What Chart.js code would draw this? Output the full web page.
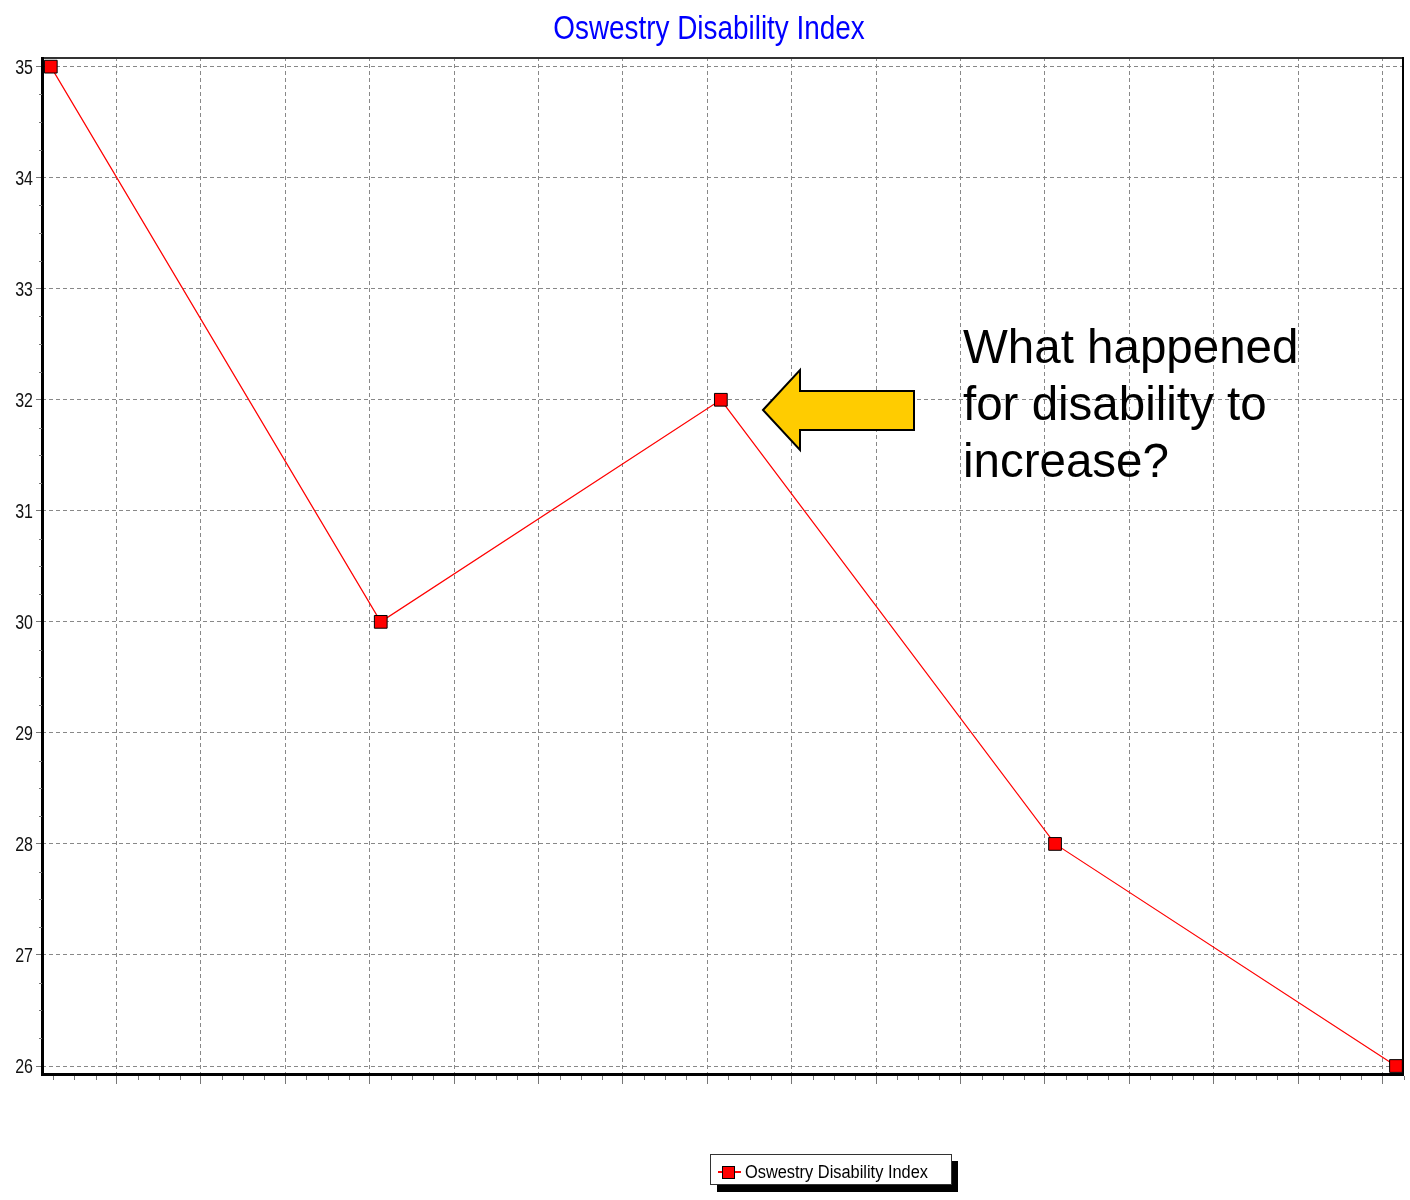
<!DOCTYPE html>
<html>
<head>
<meta charset="utf-8">
<script src="https://cdn.jsdelivr.net/npm/chart.js@4.4.1/dist/chart.umd.min.js"></script>
<style>
  html, body { margin: 0; padding: 0; background: #ffffff; }
  #wrap { width: 1410px; height: 1200px; }
</style>
</head>
<body>
<div id="wrap"><canvas id="c" width="1410" height="1200"></canvas></div>
<script>
// ---- data ----
const chartTitle = 'Oswestry Disability Index';
const seriesLabel = 'Oswestry Disability Index';
const xValues = [0, 3.91, 7.94, 11.9, 15.94];        // time position (weeks)
const yValues = [35, 30, 32, 28, 26];
const yTickValues = [26, 27, 28, 29, 30, 31, 32, 33, 34, 35];
const xGridValues = [0.78, 1.78, 2.78, 3.78, 4.78, 5.78, 6.78, 7.78, 8.78, 9.78, 10.78, 11.78, 12.78, 13.78, 14.78, 15.78];
const noteLines = ['What happened', 'for disability to', 'increase?'];

const SANS = "'Liberation Sans', Arial, sans-serif";
const GRID = '#888888';

// draw condensed (Arial-Narrow-like) text by squeezing Liberation Sans horizontally
function narrowText(ctx, text, x, y, size, squeeze, align, color) {
  ctx.save();
  ctx.font = size + 'px ' + SANS;
  ctx.fillStyle = color;
  ctx.textBaseline = 'alphabetic';
  const w = ctx.measureText(text).width * squeeze;
  let left = x;
  if (align === 'center') left = x - w / 2;
  else if (align === 'right') left = x - w;
  ctx.translate(left, y);
  ctx.scale(squeeze, 1);
  ctx.textAlign = 'left';
  ctx.fillText(text, 0, 0);
  ctx.restore();
}

const decorations = {
  id: 'decorations',
  beforeDatasetsDraw(chart) {
    const {ctx, chartArea: a} = chart;
    ctx.save();
    // plot frame
    ctx.strokeStyle = '#333';
    ctx.lineWidth = 2;
    ctx.beginPath(); ctx.moveTo(a.left, a.top + 1); ctx.lineTo(a.right, a.top + 1); ctx.stroke();
    ctx.strokeStyle = '#000';
    ctx.beginPath(); ctx.moveTo(a.right - 1, a.top); ctx.lineTo(a.right - 1, a.bottom); ctx.stroke();
    ctx.lineWidth = 3;
    ctx.beginPath(); ctx.moveTo(a.left + 0.5, a.top); ctx.lineTo(a.left + 0.5, a.bottom + 2); ctx.stroke();
    ctx.beginPath(); ctx.moveTo(a.left, a.bottom + 0.5); ctx.lineTo(a.right, a.bottom + 0.5); ctx.stroke();

    // minor tick marks
    const xs = chart.scales.x, ys = chart.scales.y;
    ctx.strokeStyle = '#777';
    ctx.lineWidth = 1;
    for (let v = Math.ceil(ys.min * 4) / 4; v <= ys.max; v += 0.25) {
      if (Math.abs(v - Math.round(v)) < 1e-6) continue;
      const py = Math.round(ys.getPixelForValue(v)) + 0.5;
      ctx.beginPath(); ctx.moveTo(a.left - 3, py); ctx.lineTo(a.left, py); ctx.stroke();
    }
    const g0 = xGridValues[0];
    for (let k = -4; k <= xGridValues.length * 4; k++) {
      if (k % 4 === 0) continue;
      const v = g0 + k * 0.25;
      if (v < xs.min || v > xs.max) continue;
      const px = Math.round(xs.getPixelForValue(v)) + 0.5;
      ctx.beginPath(); ctx.moveTo(px, a.bottom + 2); ctx.lineTo(px, a.bottom + 6); ctx.stroke();
    }
    ctx.restore();
  },
  afterDraw(chart) {
    const {ctx, chartArea: a} = chart;
    const ys = chart.scales.y;

    // title
    narrowText(ctx, chartTitle, 709, 39, 34, 0.82, 'center', '#0000ff');

    // y tick labels from the scale's own ticks
    ys.ticks.forEach(t => {
      const py = ys.getPixelForValue(t.value);
      narrowText(ctx, String(t.value), a.left - 9, py + 7, 19.5, 0.82, 'right', '#111');
    });

    ctx.save();
    // annotation arrow
    ctx.beginPath();
    ctx.moveTo(763, 410);
    ctx.lineTo(800, 370);
    ctx.lineTo(800, 391);
    ctx.lineTo(914, 391);
    ctx.lineTo(914, 430);
    ctx.lineTo(800, 430);
    ctx.lineTo(800, 450);
    ctx.closePath();
    ctx.fillStyle = '#FFCC00';
    ctx.fill();
    ctx.lineWidth = 2;
    ctx.strokeStyle = '#000';
    ctx.lineJoin = 'miter';
    ctx.stroke();

    // annotation text
    ctx.fillStyle = '#000';
    ctx.font = '47.5px ' + SANS;
    ctx.textAlign = 'left';
    ctx.textBaseline = 'alphabetic';
    noteLines.forEach((t, i) => ctx.fillText(t, 963, 363 + i * 57));

    // legend with drop shadow
    const lx = 710, ly = 1154, lw = 241, lh = 30;
    ctx.fillStyle = '#000';
    ctx.fillRect(lx + 7, ly + 7, lw, lh + 1);
    ctx.fillStyle = '#fff';
    ctx.fillRect(lx, ly, lw, lh);
    ctx.strokeStyle = '#333';
    ctx.lineWidth = 1;
    ctx.strokeRect(lx + 0.5, ly + 0.5, lw, lh);
    ctx.strokeStyle = '#ff0000';
    ctx.lineWidth = 2;
    ctx.beginPath(); ctx.moveTo(718, 1172); ctx.lineTo(741, 1172); ctx.stroke();
    ctx.fillStyle = '#ff0000';
    ctx.fillRect(722.5, 1166.5, 12, 12);
    ctx.strokeStyle = '#000';
    ctx.lineWidth = 1;
    ctx.strokeRect(722.5, 1166.5, 12, 12);
    ctx.restore();
    narrowText(ctx, chart.data.datasets[0].label, 745, 1178, 18, 0.91, 'left', '#000');
  }
};

new Chart(document.getElementById('c'), {
  type: 'line',
  data: {
    datasets: [{
      label: seriesLabel,
      data: xValues.map((x, i) => ({x: x, y: yValues[i]})),
      borderColor: '#ff0000',
      borderWidth: 1.2,
      tension: 0,
      fill: false,
      pointStyle: 'rect',
      pointRadius: 9,
      pointHoverRadius: 9,
      pointBackgroundColor: '#ff0000',
      pointBorderColor: '#000000',
      pointBorderWidth: 1,
      clip: false
    }]
  },
  options: {
    responsive: false,
    animation: false,
    events: [],
    layout: { autoPadding: false, padding: { top: 57, right: 6, bottom: 116, left: 0 } },
    plugins: {
      legend: { display: false },
      tooltip: { enabled: false },
      title: { display: false }
    },
    scales: {
      x: {
        type: 'linear',
        min: -0.104,
        max: 16.035,
        afterBuildTicks: (s) => { s.ticks = xGridValues.map(v => ({value: v})); },
        afterFit: (s) => { s.height = 10; },
        ticks: { display: false },
        grid: { color: GRID, lineWidth: 1, drawTicks: true, tickLength: 10, tickColor: '#777', tickWidth: 1 },
        border: { display: false, dash: [4, 3] }
      },
      y: {
        type: 'linear',
        min: 25.928,
        max: 35.087,
        afterBuildTicks: (s) => { s.ticks = yTickValues.map(v => ({value: v})); },
        afterFit: (s) => { s.width = 42; },
        ticks: { display: false },
        grid: { color: GRID, lineWidth: 1, drawTicks: true, tickLength: 6, tickColor: '#777', tickWidth: 1 },
        border: { display: false, dash: [4, 3] }
      }
    }
  },
  plugins: [decorations]
});
</script>
</body>
</html>
